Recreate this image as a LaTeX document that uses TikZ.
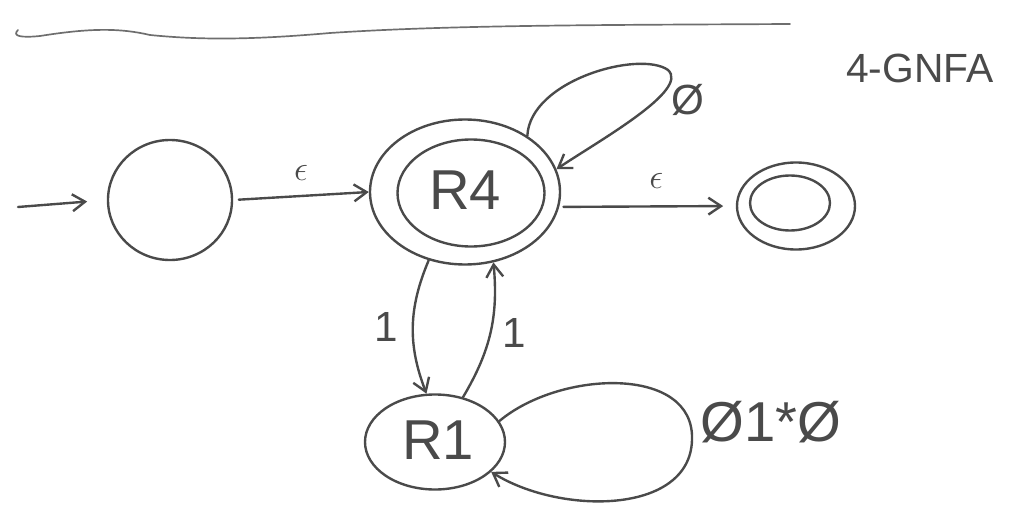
\documentclass[tikz,border=0pt]{standalone}
\usepackage{fontspec}
\setmainfont{Liberation Sans}
\usetikzlibrary{shapes.geometric,arrows.meta}
\definecolor{pen}{HTML}{4A4A4A}
\begin{document}
\begin{tikzpicture}[x=0.025cm,y=-0.025cm,
  pen/.style={draw=pen,line width=1.7pt,line cap=round},
  st/.style={pen,ellipse,inner sep=0pt},
  arr/.style={pen,-{Straight Barb[length=9pt,width=12pt]}},
  lab/.style={text=pen,inner sep=0pt,font=\fontsize{26}{26}\selectfont},
  big/.style={text=pen,inner sep=0pt,font=\fontsize{40}{40}\selectfont}]
\useasboundingbox (0,0) rectangle (1021,519);
% top line
\draw[pen,line width=1.2pt,draw=pen!80] (18,30) .. controls (12,36) and (20,38) .. (40,36)
  .. controls (90,28) and (120,28) .. (150,35) .. controls (200,40) and (250,40) .. (330,33)
  .. controls (450,25) and (600,25) .. (790,24);
% title
\node[big,font=\fontsize{29}{29}\selectfont,anchor=west] (title) at (846,68) {4-GNFA};
% states
\node[st,minimum width=124*0.025cm,minimum height=120*0.025cm] (q0) at (170,200) {};
\node[st,minimum width=190*0.025cm,minimum height=145*0.025cm] (r4o) at (465,192) {};
\node[st,minimum width=147*0.025cm,minimum height=107*0.025cm] (r4i) at (471,193) {};
\node[big] (r4t) at (465,190) {R4};
\node[st,minimum width=118*0.025cm,minimum height=87*0.025cm] (fo) at (796,206) {};
\node[st,minimum width=80*0.025cm,minimum height=55*0.025cm] (fi) at (790,203) {};
\node[st,minimum width=140*0.025cm,minimum height=95*0.025cm] (r1) at (435,442) {};
\node[big] (r1t) at (438,440) {R1};
% start
\coordinate (s) at (18,207);
\draw[arr,shorten >=14pt] (s) -- (q0.west);
% transitions
\draw[arr,shorten <=4pt] (q0.east) -- node[lab,above=10pt] (e1) {$\epsilon$} (r4o.west);
\draw[arr,shorten <=3pt,shorten >=9pt] (r4o.-9) -- node[lab,above=12pt,pos=0.55] (e2) {$\epsilon$} (fo.west);
\draw[arr] (r4o.-118) to[bend right=22] node[lab,left=10pt,font=\fontsize{30}{30}\selectfont] (l1) {1} (r1.100);
\draw[arr] (r1.58) to[bend right=18] node[lab,right=8pt,font=\fontsize{30}{30}\selectfont] (l2) {1} (r4o.-68);
% self loops
\draw[arr] (r4o.42) .. controls (530,80) and (640,50) .. (668,70) .. controls (690,90) and (600,140) .. (r4o.14);
\node[big,font=\fontsize{30}{30}\selectfont] (lr4) at (688,100) {Ø};
\draw[arr] (r1.18) .. controls (560,370) and (695,365) .. (692,440) .. controls (690,515) and (560,515) .. (r1.-28);
\node[big,anchor=west] (lr1) at (700,422) {Ø1*Ø};
\end{tikzpicture}
\end{document}
